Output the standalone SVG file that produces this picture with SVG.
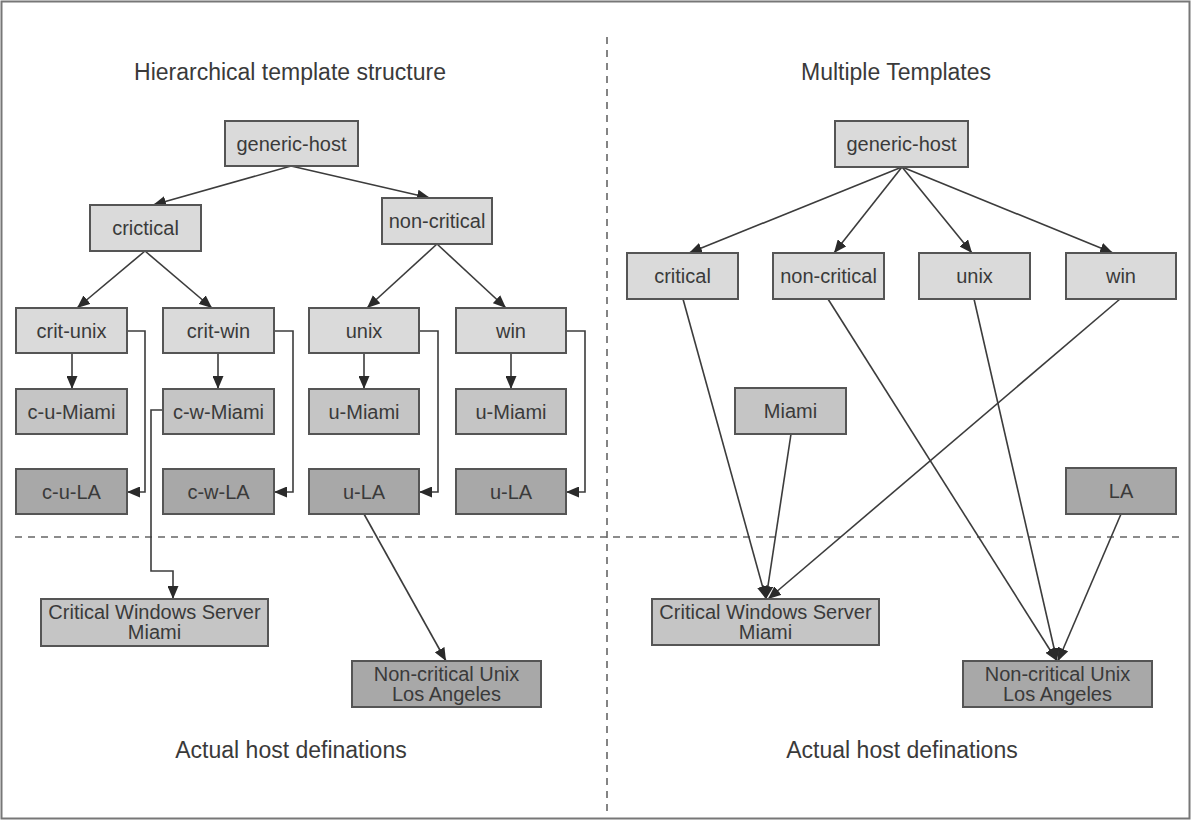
<svg xmlns="http://www.w3.org/2000/svg" width="1192" height="821" viewBox="0 0 1192 821">
<style>
.bx rect{stroke:#555;stroke-width:2}
.l1 rect{fill:#dadada}
.l2 rect{fill:#c5c5c5}
.l3 rect{fill:#a8a8a8}
text{font-family:"Liberation Sans",Arial,sans-serif;fill:#3a3a3a;text-anchor:middle}
.bx text{font-size:20px}
.ttl{font-size:23px}
.c{fill:none;stroke:#3c3c3c;stroke-width:1.6}
.a{marker-end:url(#ah)}
.d{fill:none;stroke:#666;stroke-width:1.6;stroke-dasharray:7 6}
</style>
<defs>
<marker id="ah" markerUnits="userSpaceOnUse" markerWidth="13" markerHeight="11" refX="13" refY="5.5" orient="auto">
<path d="M0,0 L13,5.5 L0,11 z" fill="#2a2a2a"/>
</marker>
</defs>
<rect x="1.5" y="1.5" width="1188" height="817" fill="#fff" stroke="#777" stroke-width="2"/>
<g id="dividers">
<line class="d" x1="607" y1="37" x2="607" y2="814"/>
<line class="d" x1="15" y1="537" x2="1182" y2="537"/>
</g>
<g id="titles">
<text class="ttl" x="290" y="80">Hierarchical template structure</text>
<text class="ttl" x="896" y="80">Multiple Templates</text>
<text class="ttl" x="291" y="758">Actual host definations</text>
<text class="ttl" x="902" y="758">Actual host definations</text>
</g>
<g id="connectors">
<line class="c a" x1="291" y1="166" x2="153" y2="205"/>
<line class="c a" x1="291" y1="166" x2="430" y2="198"/>
<line class="c a" x1="145" y1="251" x2="77" y2="308"/>
<line class="c a" x1="145" y1="251" x2="212" y2="308"/>
<line class="c a" x1="437" y1="244" x2="367" y2="308"/>
<line class="c a" x1="437" y1="244" x2="506" y2="308"/>
<line class="c a" x1="72" y1="353" x2="72" y2="389"/>
<line class="c a" x1="218" y1="353" x2="218" y2="389"/>
<line class="c a" x1="364" y1="353" x2="364" y2="389"/>
<line class="c a" x1="511" y1="353" x2="511" y2="389"/>
<polyline class="c a" points="127,331 145,331 145,492 127,492"/>
<polyline class="c a" points="274,331 293,331 293,492 274,492"/>
<polyline class="c a" points="419,331 438,331 438,492 419,492"/>
<polyline class="c a" points="566,331 585,331 585,492 566,492"/>
<polyline class="c a" points="163,410 151,410 151,571 173,571 173,599"/>
<line class="c a" x1="364" y1="514" x2="446" y2="661"/>
<line class="c a" x1="902" y1="167" x2="689" y2="253"/>
<line class="c a" x1="902" y1="167" x2="834" y2="253"/>
<line class="c a" x1="902" y1="167" x2="972" y2="253"/>
<line class="c a" x1="902" y1="167" x2="1113" y2="253"/>
<line class="c a" x1="683" y1="299" x2="766" y2="599"/>
<line class="c a" x1="791" y1="434" x2="766" y2="599"/>
<line class="c a" x1="1120" y1="299" x2="768" y2="599"/>
<line class="c a" x1="828" y1="299" x2="1057" y2="661"/>
<line class="c a" x1="974" y1="299" x2="1057" y2="661"/>
<line class="c a" x1="1121" y1="514" x2="1058" y2="661"/>
</g>
<g id="n-generic-host-l" class="bx l1"><rect x="225" y="121" width="133" height="45"/><text x="291.5" y="150.5">generic-host</text></g>
<g id="n-crictical" class="bx l1"><rect x="90" y="205" width="111" height="46"/><text x="145.5" y="235">crictical</text></g>
<g id="n-non-critical-l" class="bx l1"><rect x="382" y="198" width="110" height="46"/><text x="437" y="228">non-critical</text></g>
<g id="n-crit-unix" class="bx l1"><rect x="16" y="308" width="111" height="45"/><text x="71.5" y="337.5">crit-unix</text></g>
<g id="n-crit-win" class="bx l1"><rect x="163" y="308" width="111" height="45"/><text x="218.5" y="337.5">crit-win</text></g>
<g id="n-unix-l" class="bx l1"><rect x="309" y="308" width="110" height="45"/><text x="364" y="337.5">unix</text></g>
<g id="n-win-l" class="bx l1"><rect x="456" y="308" width="110" height="45"/><text x="511" y="337.5">win</text></g>
<g id="n-c-u-miami" class="bx l2"><rect x="16" y="389" width="111" height="45"/><text x="71.5" y="418.5">c-u-Miami</text></g>
<g id="n-c-w-miami" class="bx l2"><rect x="163" y="389" width="111" height="45"/><text x="218.5" y="418.5">c-w-Miami</text></g>
<g id="n-u-miami-1" class="bx l2"><rect x="309" y="389" width="110" height="45"/><text x="364" y="418.5">u-Miami</text></g>
<g id="n-u-miami-2" class="bx l2"><rect x="456" y="389" width="110" height="45"/><text x="511" y="418.5">u-Miami</text></g>
<g id="n-c-u-la" class="bx l3"><rect x="16" y="469" width="111" height="45"/><text x="71.5" y="498.5">c-u-LA</text></g>
<g id="n-c-w-la" class="bx l3"><rect x="163" y="469" width="111" height="45"/><text x="218.5" y="498.5">c-w-LA</text></g>
<g id="n-u-la-1" class="bx l3"><rect x="309" y="469" width="110" height="45"/><text x="364" y="498.5">u-LA</text></g>
<g id="n-u-la-2" class="bx l3"><rect x="456" y="469" width="110" height="45"/><text x="511" y="498.5">u-LA</text></g>
<g id="n-cws-miami-l" class="bx l2"><rect x="41" y="599" width="227" height="47"/><text x="154.5" y="619">Critical Windows Server</text><text x="154.5" y="639">Miami</text></g>
<g id="n-ncu-la-l" class="bx l3"><rect x="352" y="661" width="189" height="46"/><text x="446.5" y="681">Non-critical Unix</text><text x="446.5" y="701">Los Angeles</text></g>
<g id="n-generic-host-r" class="bx l1"><rect x="835" y="121" width="133" height="46"/><text x="901.5" y="151">generic-host</text></g>
<g id="n-critical-r" class="bx l1"><rect x="627" y="253" width="111" height="46"/><text x="682.5" y="283">critical</text></g>
<g id="n-non-critical-r" class="bx l1"><rect x="773" y="253" width="111" height="46"/><text x="828.5" y="283">non-critical</text></g>
<g id="n-unix-r" class="bx l1"><rect x="919" y="253" width="111" height="46"/><text x="974.5" y="283">unix</text></g>
<g id="n-win-r" class="bx l1"><rect x="1066" y="253" width="110" height="46"/><text x="1121" y="283">win</text></g>
<g id="n-miami" class="bx l2"><rect x="735" y="388" width="111" height="46"/><text x="790.5" y="418">Miami</text></g>
<g id="n-la" class="bx l3"><rect x="1066" y="468" width="110" height="46"/><text x="1121" y="498">LA</text></g>
<g id="n-cws-miami-r" class="bx l2"><rect x="652" y="599" width="227" height="46"/><text x="765.5" y="619">Critical Windows Server</text><text x="765.5" y="639">Miami</text></g>
<g id="n-ncu-la-r" class="bx l3"><rect x="963" y="661" width="189" height="46"/><text x="1057.5" y="681">Non-critical Unix</text><text x="1057.5" y="701">Los Angeles</text></g>
</svg>
